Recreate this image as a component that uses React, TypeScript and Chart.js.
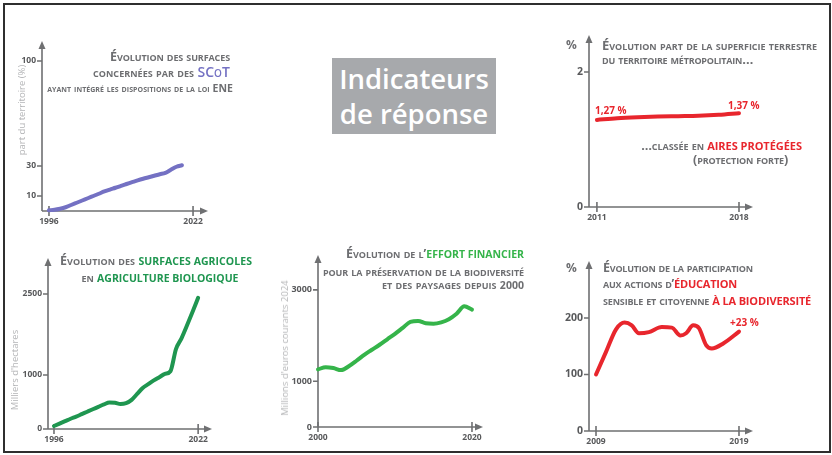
import React, { useEffect, useLayoutEffect, useRef } from "react";
import { Chart, registerables } from "chart.js";
Chart.register(...registerables);

// ---------- DATA ----------
const scotYears = [1996, 1997, 1998, 1999, 2000, 2001, 2002, 2003, 2004, 2005, 2006, 2007, 2008, 2009, 2010, 2011, 2012, 2013, 2014, 2015, 2016, 2017, 2018, 2019, 2020];
const scotValues = [0.5, 0.8, 1.5, 2.5, 4, 5.5, 7, 8.5, 10, 11.5, 13, 14.3, 15.5, 16.8, 18, 19.2, 20.4, 21.5, 22.5, 23.5, 24.5, 25.4, 27.5, 29.5, 30.5];
const scotXTicks = [1996, 2022];
const scotYTicks = [10, 30, 100];

const bioYears = [1996, 1997, 1998, 1999, 2000, 2001, 2002, 2003, 2004, 2005, 2006, 2007, 2008, 2009, 2010, 2011, 2012, 2013, 2014, 2015, 2016, 2017, 2018, 2019, 2020, 2021, 2022];
const bioValues = [55, 100, 145, 190, 230, 275, 320, 365, 410, 455, 490, 485, 465, 480, 540, 650, 760, 830, 900, 960, 1020, 1070, 1480, 1680, 1920, 2170, 2430];
const bioXTicks = [1996, 2022];
const bioYTicks = [0, 1000, 2500];

const airesYears = [2011, 2012, 2013, 2014, 2015, 2016, 2017, 2018];
const airesValues = [1.29, 1.315, 1.33, 1.34, 1.345, 1.35, 1.365, 1.39];
const airesXTicks = [2011, 2018];
const airesYTicks = [0, 2];

const effortYears = [2000, 2001, 2002, 2003, 2004, 2005, 2006, 2007, 2008, 2009, 2010, 2011, 2012, 2013, 2014, 2015, 2016, 2017, 2018, 2019, 2020];
const effortValues = [1260, 1310, 1290, 1245, 1330, 1450, 1580, 1690, 1800, 1920, 2040, 2170, 2300, 2320, 2270, 2260, 2290, 2360, 2480, 2640, 2570];
const effortXTicks = [2000, 2020];
const effortYTicks = [0, 1000, 3000];

const eduYears = [2009, 2009.7, 2010.4, 2011, 2011.5, 2012, 2012.7, 2013.6, 2014.3, 2014.9, 2015.3, 2015.8, 2016.2, 2016.7, 2017.1, 2017.9, 2019];
const eduValues = [100, 140, 180, 192, 187, 173, 175, 184, 183, 169, 173, 187, 182, 152, 146, 155, 176];
const eduXTicks = [2009, 2019];
const eduYTicks = [0, 100, 200];

// ---------- STYLE ----------
const AXIS = "#6f7072";
const GREY = "#6d6e71";
const FONT = "'Open Sans', sans-serif";
const YW = 40; // y scale width
const XH = 26; // x scale height
const PT = 4;
const PR = 6;

const axesPlugin = {
  id: "arrowAxes",
  beforeDatasetsDraw(chart: any) {
    const { ctx, chartArea, scales } = chart;
    const { left, top, right, bottom } = chartArea;
    const x = scales.x;
    const y = scales.y;
    ctx.save();
    ctx.strokeStyle = AXIS;
    ctx.fillStyle = AXIS;
    ctx.lineWidth = 1.6;
    ctx.beginPath();
    ctx.moveTo(left, bottom);
    ctx.lineTo(left, top + 6);
    ctx.moveTo(left, bottom);
    ctx.lineTo(right - 6, bottom);
    ctx.stroke();
    ctx.beginPath();
    ctx.moveTo(left, top);
    ctx.lineTo(left - 3.5, top + 8);
    ctx.lineTo(left + 3.5, top + 8);
    ctx.closePath();
    ctx.fill();
    ctx.beginPath();
    ctx.moveTo(right, bottom);
    ctx.lineTo(right - 8, bottom - 3.5);
    ctx.lineTo(right - 8, bottom + 3.5);
    ctx.closePath();
    ctx.fill();
    ctx.beginPath();
    y.ticks.forEach((t: any) => {
      const py = y.getPixelForValue(t.value);
      ctx.moveTo(left - 5, py);
      ctx.lineTo(left, py);
    });
    x.ticks.forEach((t: any) => {
      const px = x.getPixelForValue(t.value);
      ctx.moveTo(px, bottom - 5);
      ctx.lineTo(px, bottom + 5);
    });
    ctx.stroke();
    ctx.restore();
  },
};

type LCProps = {
  xs: number[];
  ys: number[];
  color: string;
  xMin: number;
  xMax: number;
  yMax: number;
  xTicks: number[];
  yTicks: number[];
  yTickSize: number;
  axisX: number;
  topY: number;
  rightX: number;
  zeroY: number;
};

function LineChart(p: LCProps) {
  const ref = useRef<HTMLCanvasElement | null>(null);
  const left = p.axisX - YW;
  const top = p.topY - PT;
  const width = p.rightX + PR - left;
  const height = p.zeroY + XH - top;
  useEffect(() => {
    const chart = new Chart(ref.current as HTMLCanvasElement, {
      type: "line",
      data: {
        datasets: [
          {
            data: p.xs.map((x, i) => ({ x, y: p.ys[i] })),
            borderColor: p.color,
            borderWidth: 4,
            borderCapStyle: "round",
            pointRadius: 0,
            cubicInterpolationMode: "monotone",
            fill: false,
            clip: false,
          } as any,
        ],
      },
      options: {
        animation: false,
        responsive: false,
        maintainAspectRatio: false,
        layout: { padding: { top: PT, right: PR, left: 0, bottom: 0 } },
        plugins: { legend: { display: false }, tooltip: { enabled: false } },
        scales: {
          x: {
            type: "linear",
            min: p.xMin,
            max: p.xMax,
            afterBuildTicks: (s: any) => {
              s.ticks = p.xTicks.map((v) => ({ value: v }));
            },
            afterFit: (s: any) => {
              s.height = XH;
              s.paddingLeft = 0;
              s.paddingRight = 0;
            },
            grid: { display: false, drawTicks: false },
            border: { display: false },
            ticks: {
              padding: 5,
              autoSkip: false,
              maxRotation: 0,
              color: "#58595b",
              font: { family: FONT, size: 8.5, weight: "bold" },
              callback: (v: any) => String(v),
            },
          },
          y: {
            type: "linear",
            min: 0,
            max: p.yMax,
            afterBuildTicks: (s: any) => {
              s.ticks = p.yTicks.map((v) => ({ value: v }));
            },
            afterFit: (s: any) => {
              s.width = YW;
              s.paddingTop = 0;
              s.paddingBottom = 0;
            },
            grid: { display: false, drawTicks: false },
            border: { display: false },
            ticks: {
              padding: 6,
              autoSkip: false,
              color: "#58595b",
              font: { family: FONT, size: p.yTickSize, weight: "bold" },
              callback: (v: any) => String(v),
            },
          },
        },
      } as any,
      plugins: [axesPlugin],
    });
    return () => chart.destroy();
  }, []);
  return (
    <canvas
      ref={ref}
      width={width}
      height={height}
      style={{ position: "absolute", left, top, width, height }}
    />
  );
}

type TProps = { x: number; y: number; anchor?: "left" | "right" | "center"; size?: number; w?: number; children: any; style?: any };
function T({ x, y, anchor = "left", size = 12.5, w, children, style }: TProps) {
  const ref = useRef<HTMLDivElement | null>(null);
  useLayoutEffect(() => {
    const fit = () => {
      const el = ref.current;
      if (!el || !w) return;
      const inner = el.firstChild as HTMLElement;
      inner.style.letterSpacing = "0px";
      const nat = inner.getBoundingClientRect().width;
      const n = (inner.textContent || "").length;
      const ls = (w - nat) / n;
      inner.style.letterSpacing = ls.toFixed(2) + "px";
    };
    fit();
    if ((document as any).fonts && (document as any).fonts.ready) {
      (document as any).fonts.ready.then(fit);
    }
  }, []);
  const lh = 16;
  const s: any = {
    position: "absolute",
    top: y - lh / 2,
    height: lh,
    lineHeight: lh + "px",
    whiteSpace: "nowrap",
    fontSize: size,
    fontFamily: FONT,
    fontWeight: 700,
    color: GREY,
    fontVariant: "small-caps",
    ...style,
  };
  if (anchor === "left") s.left = x;
  else if (anchor === "right") s.right = 832 - x;
  else {
    s.left = x - 300;
    s.width = 600;
    s.textAlign = "center";
  }
  return (
    <div ref={ref} style={s}>
      <span style={{ display: "inline-block" }}>{children}</span>
    </div>
  );
}

const Hi = ({ c, children, size = 10.5 }: { c: string; children: any; size?: number }) => (
  <span style={{ color: c, fontVariant: "normal", fontSize: size }}>{children}</span>
);

function VTitle({ x, y, text }: { x: number; y: number; text: string }) {
  return (
    <div
      style={{
        position: "absolute",
        left: x,
        top: y,
        transform: "translate(-50%, -50%) rotate(-90deg)",
        whiteSpace: "nowrap",
        fontFamily: FONT,
        fontSize: 9.5,
        color: "#b4b5b7",
        lineHeight: "12px",
      }}
    >
      {text}
    </div>
  );
}

const PURPLE = "#7471c3";
const GREEN_DARK = "#1f9650";
const GREEN = "#35b44a";
const RED = "#e8262d";

export default function App() {
  return (
    <div
      style={{
        position: "fixed",
        left: 0,
        top: 0,
        width: 832,
        height: 455,
        background: "#ffffff",
        overflow: "hidden",
      }}
    >
      <div
        style={{
          position: "absolute",
          left: 3,
          top: 3,
          width: 828,
          height: 450,
          border: "2px solid #2f2f2f",
          boxSizing: "border-box",
        }}
      />

      <LineChart xs={scotYears} ys={scotValues} color={PURPLE} xMin={1994.74} xMax={2024.7} yMax={113.3}
        xTicks={scotXTicks} yTicks={scotYTicks} yTickSize={8.5} axisX={42} topY={41} rightX={208} zeroY={211} />
      <LineChart xs={bioYears} ys={bioValues} color={GREEN_DARK} xMin={1994.92} xMax={2024.5} yMax={3167}
        xTicks={bioXTicks} yTicks={bioYTicks} yTickSize={8.5} axisX={48} topY={258} rightX={212} zeroY={429} />
      <LineChart xs={airesYears} ys={airesValues} color={RED} xMin={2010.61} xMax={2018.69} yMax={2.548}
        xTicks={airesXTicks} yTicks={airesYTicks} yTickSize={10.5} axisX={589} topY={35} rightX={753} zeroY={207} />
      <LineChart xs={effortYears} ys={effortValues} color={GREEN} xMin={2000} xMax={2021.43} yMax={3764}
        xTicks={effortXTicks} yTicks={effortYTicks} yTickSize={9} axisX={318} topY={255} rightX={483} zeroY={427} />
      <LineChart xs={eduYears} ys={eduValues} color={RED} xMin={2008.51} xMax={2019.98} yMax={300.9}
        xTicks={eduXTicks} yTicks={eduYTicks} yTickSize={10.5} axisX={589} topY={261} rightX={753} zeroY={431} />

      {/* Title box */}
      <div
        style={{
          position: "absolute",
          left: 332,
          top: 58,
          width: 164,
          height: 76,
          background: "#a7a9ac",
          color: "#ffffff",
          fontFamily: FONT,
          fontWeight: 600,
          fontSize: 27.5,
          lineHeight: "35px",
          textAlign: "center",
          paddingTop: 3,
          boxSizing: "border-box",
        }}
      >
        Indicateurs
        <br />
        de réponse
      </div>

      {/* Panel 1 texts */}
      <VTitle x={22} y={110} text="part du territoire (%)" />
      <T x={230} y={57} anchor="right" w={120}>Évolution des surfaces</T>
      <T x={230} y={72} anchor="right" w={137}>
        concernées par des <span style={{ color: PURPLE, fontSize: 14, fontWeight: 600 }}>SCoT</span>
      </T>
      <T x={233} y={88} anchor="right" size={10.5} w={186}>ayant intégré les dispositions de la loi ENE</T>

      {/* Panel 2 texts */}
      <VTitle x={15} y={370} text="Milliers d'hectares" />
      <T x={156} y={261} anchor="center" w={192}>
        Évolution des <Hi c={GREEN_DARK}>SURFACES AGRICOLES</Hi>
      </T>
      <T x={160} y={278} anchor="center" w={157}>
        en <Hi c={GREEN_DARK}>AGRICULTURE BIOLOGIQUE</Hi>
      </T>

      {/* Panel 3 texts */}
      <T x={566} y={45} size={12} style={{ fontVariant: "normal" }}>%</T>
      <T x={602} y={45} size={13} w={215}>Évolution part de la superficie terrestre</T>
      <T x={602} y={59} size={13} w={151}>du territoire métropolitain…</T>
      <T x={595} y={110} size={10} style={{ color: RED, fontVariant: "normal" }}>1,27 %</T>
      <T x={728} y={105} size={10} style={{ color: RED, fontVariant: "normal" }}>1,37 %</T>
      <T x={802} y={146} anchor="right" w={161}>
        …classée en <Hi c={RED} size={11}>AIRES PROTÉGÉES</Hi>
      </T>
      <T x={788} y={160} anchor="right" w={95}>(protection forte)</T>

      {/* Panel 4 texts */}
      <VTitle x={285} y={348} text="Millions d'euros courants 2024" />
      <T x={524} y={254} anchor="right" w={178}>
        Évolution de l’<Hi c={GREEN}>EFFORT FINANCIER</Hi>
      </T>
      <T x={524} y={272} anchor="right" w={201}>pour la préservation de la biodiversité</T>
      <T x={524} y={285} anchor="right" w={142}>
        et des paysages depuis <Hi c={GREY}>2000</Hi>
      </T>

      {/* Panel 5 texts */}
      <T x={566} y={268} size={12} style={{ fontVariant: "normal" }}>%</T>
      <T x={603} y={268} w={150}>Évolution de la participation</T>
      <T x={603} y={284} w={134}>
        aux actions d’<Hi c={RED} size={11}>ÉDUCATION</Hi>
      </T>
      <T x={603} y={301} w={208}>
        sensible et citoyenne <Hi c={RED} size={11}>À LA BIODIVERSITÉ</Hi>
      </T>
      <T x={730} y={322} size={10} style={{ color: RED, fontVariant: "normal" }}>+23 %</T>
    </div>
  );
}
